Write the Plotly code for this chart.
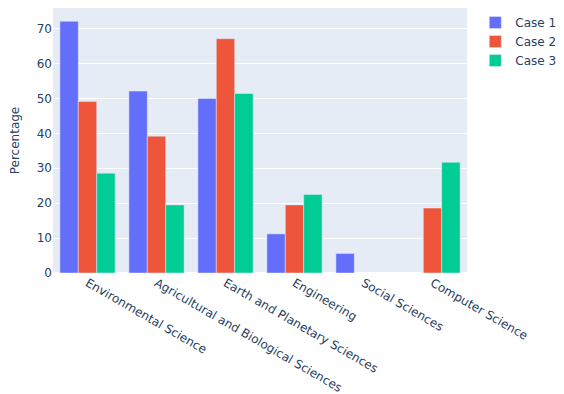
import plotly.graph_objects as go

categories = ["Environmental Science", "Agricultural and Biological Sciences",
              "Earth and Planetary Sciences", "Engineering", "Social Sciences",
              "Computer Science"]
case1 = [72.1, 52.1, 50.0, 11.2, 5.6, None]
case2 = [49.1, 39.2, 67.1, 19.5, None, 18.6]
case3 = [28.6, 19.5, 51.4, 22.5, None, 31.7]

fig = go.Figure()
fig.add_trace(go.Bar(name="Case 1", x=categories, y=case1))
fig.add_trace(go.Bar(name="Case 2", x=categories, y=case2))
fig.add_trace(go.Bar(name="Case 3", x=categories, y=case3))

fig.update_layout(
    template="plotly",
    width=548, height=386,
    barmode="group",
    font=dict(family="Verdana, DejaVu Sans, sans-serif"),
    margin=dict(l=45, r=89, t=0, b=121, autoexpand=False),
    yaxis=dict(title=dict(text="Percentage", font=dict(size=12)), automargin=False),
    xaxis=dict(tickangle=30, automargin=False),
)
fig.write_html("out.html")
